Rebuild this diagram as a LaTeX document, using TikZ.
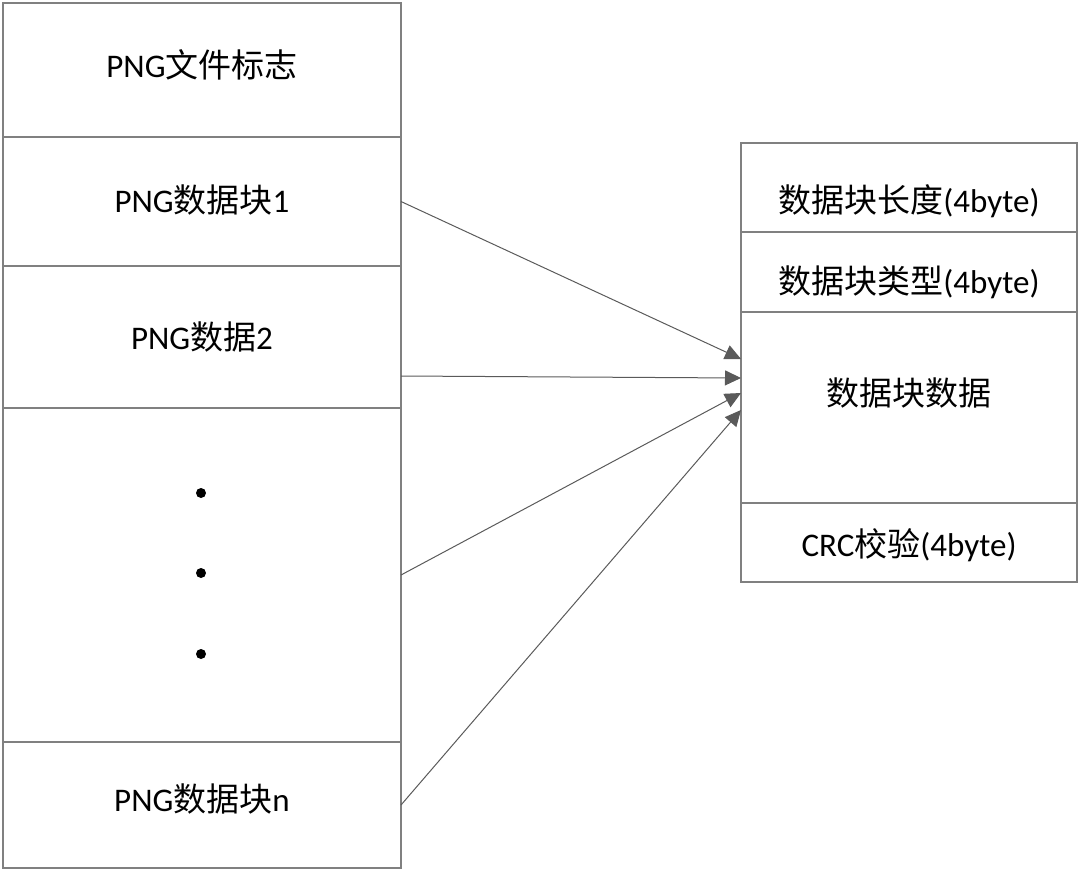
\documentclass[tikz,border=0pt]{standalone}
\usepackage{fontspec}
\setmainfont{Carlito}
\newfontfamily\cjk{Noto Sans CJK SC}
\usetikzlibrary{positioning,arrows.meta}
\definecolor{boxgray}{RGB}{128,128,128}
\definecolor{arrowgray}{RGB}{90,90,90}
\newcommand{\zh}[1]{{\cjk #1}}
\newcommand{\up}[2]{\raisebox{#1pt}{#2}}

\begin{document}
\begin{tikzpicture}[x=1pt,y=-1pt,
	cell/.style={draw=boxgray, line width=1.4pt, outer sep=0pt, minimum width=398pt, inner sep=0pt, text height=29pt, text depth=8pt, font=\fontsize{33}{38}\selectfont},
	part/.style={cell, minimum width=336pt},
	link/.style={draw=arrowgray, line width=1pt, -{Triangle[length=16pt,width=15pt]}}]
	\useasboundingbox (0,0) rectangle (1080,873);
	% PNG file
	\node[cell, minimum height=134pt] (sig) at (202,70) {\up{3.5}{PNG\zh{文件标志}}};
	\node[cell, minimum height=129pt, below=0pt of sig] (chunk1) {\up{0}{PNG\zh{数据块}1}};
	\node[cell, minimum height=142pt, below=0pt of chunk1] (chunk2) {\up{-1.5}{PNG\zh{数据}2}};
	\node[cell, minimum height=334pt, below=0pt of chunk2] (dots) {};
	\node[cell, minimum height=126pt, below=0pt of dots] (chunkn) {\up{4.5}{PNG\zh{数据块}n}};
	\foreach \yCoord in {493,573,654}
	{
		\fill (201,\yCoord) circle (5pt);
	}
	% one chunk
	\node[part, minimum height=89pt] (len) at (909,187.5) {\up{-14}{\zh{数据块长度}(4byte)}};
	\node[part, minimum height=80pt, below=0pt of len] (type) {\up{-10.5}{\zh{数据块类型}(4byte)}};
	\node[part, minimum height=191pt, below=0pt of type] (body) {\up{13}{\zh{数据块数据}}};
	\node[part, minimum height=79pt, below=0pt of body] (crc) {\up{-3}{CRC\zh{校验}(4byte)}};
	% arrows
	\coordinate (from2) at (401,376);
	\coordinate (to1) at (741,359);
	\coordinate (to2) at (741,378);
	\coordinate (to3) at (741,393);
	\coordinate (to4) at (741,410);
	\draw[link] (chunk1.east) -- (to1);
	\draw[link] (from2) -- (to2);
	\draw[link] (dots.east) -- (to3);
	\draw[link] (chunkn.east) -- (to4);
\end{tikzpicture}
\end{document}
